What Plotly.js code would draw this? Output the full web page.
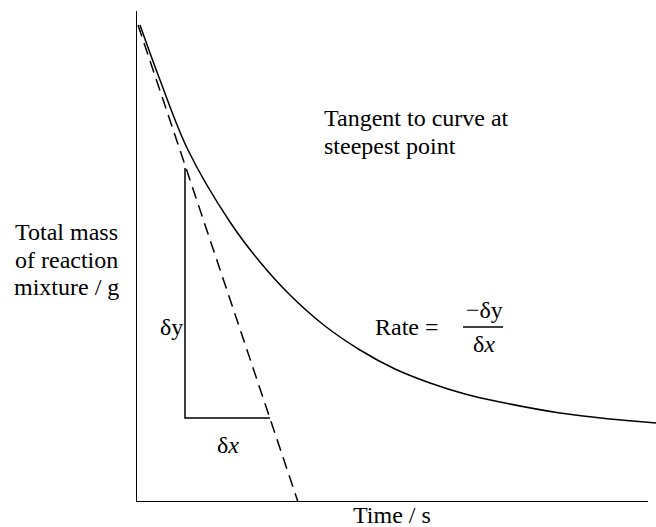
<!DOCTYPE html>
<html>
<head>
<meta charset="utf-8">
<script src="https://cdn.plot.ly/plotly-3.0.1.min.js"></script>
<style>html,body{margin:0;padding:0;background:#fff;}#chart{width:656px;height:527px;}</style>
</head>
<body>
<div id="chart"></div>
<script>
// Data (arbitrary units: time from origin, mass from baseline)
const curveTime = [4, 24, 52, 94, 124, 154, 189, 224, 259, 294, 329, 364, 424, 474, 520];
const curveMass = [477, 422, 352, 280, 240, 207, 176, 152, 133, 119, 108, 100, 89, 83, 79];
const tangentTime = [2, 162];
const tangentMass = [477, 0];
const triangleTime = [49, 49, 134];
const triangleMass = [334, 84, 84];
const axisTime = [0, 0, 512];
const axisMass = [491, 0, 0];

const FONT = {family: 'Liberation Serif', size: 24, color: '#000'};

const traces = [
  {x: axisTime, y: axisMass, mode: 'lines', line: {color: '#000', width: 2}, hoverinfo: 'skip', cliponaxis: false},
  {x: curveTime, y: curveMass, mode: 'lines', line: {color: '#000', width: 1.5, shape: 'spline', smoothing: 1}, hoverinfo: 'skip', cliponaxis: false},
  {x: tangentTime, y: tangentMass, mode: 'lines', line: {color: '#000', width: 1.5, dash: '12px,7px'}, hoverinfo: 'skip', cliponaxis: false},
  {x: triangleTime, y: triangleMass, mode: 'lines', line: {color: '#000', width: 1.5}, hoverinfo: 'skip', cliponaxis: false}
];

function ann(text, x, y, xanchor) {
  return {text: text, x: x, y: y, xref: 'x', yref: 'y', showarrow: false, xanchor: xanchor || 'left', yanchor: 'middle', font: FONT};
}
// paper-positioned annotation (outside plot area), given position relative to plot origin
function pann(text, x, y, xanchor) {
  return {text: text, x: x / 520, y: y / 491, xref: 'paper', yref: 'paper', showarrow: false, xanchor: xanchor || 'center', yanchor: 'middle', font: FONT};
}

const timeTitle = pann('Time / s', 256, -13, 'center');
timeTitle.height = 22;
timeTitle.valign = 'middle';

const layout = {
  width: 656, height: 527,
  margin: {l: 136, r: 0, t: 11, b: 25},
  paper_bgcolor: '#fff', plot_bgcolor: '#fff',
  showlegend: false,
  font: FONT,
  xaxis: {range: [0, 520], visible: false, fixedrange: true},
  yaxis: {range: [0, 491], visible: false, fixedrange: true},
  annotations: [
    ann('Tangent to curve at', 186, 384),
    ann('steepest point', 186, 356),
    pann('Total mass', -70, 270),
    pann('of reaction', -70, 242),
    pann('mixture / g', -70, 215),
    ann('δy', 35, 175, 'center'),
    ann('δ<i>x</i>', 92, 57, 'center'),
    ann('Rate =', 237, 175),
    ann('−δy', 348, 192, 'center'),
    ann('δ<i>x</i>', 348, 158, 'center'),
    timeTitle
  ],
  shapes: [
    {type: 'line', xref: 'x', yref: 'y', x0: 327, x1: 367, y0: 175, y1: 175, line: {color: '#000', width: 1.5}}
  ]
};

Plotly.newPlot('chart', traces, layout, {displayModeBar: false, staticPlot: true});
</script>
</body>
</html>
